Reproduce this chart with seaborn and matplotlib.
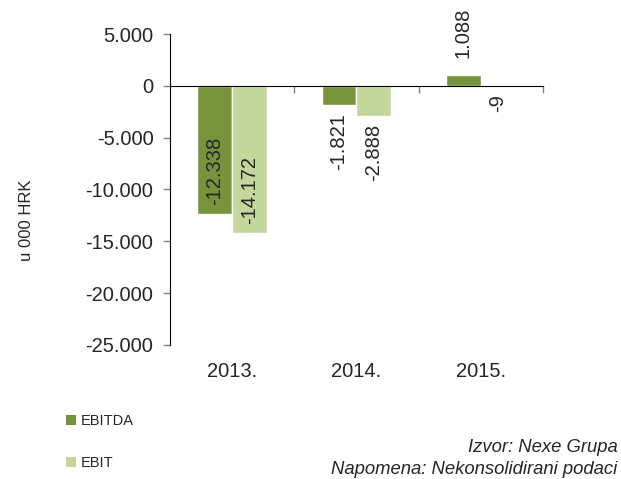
import matplotlib
matplotlib.use('Agg')
import matplotlib.pyplot as plt
import matplotlib.transforms as mtransforms
from matplotlib.patches import Patch
import pandas as pd
import seaborn as sns

years = ['2013.', '2014.', '2015.']
ebitda = [-12338, -1821, 1088]
ebit = [-14172, -2888, -9]
series = ['EBITDA', 'EBIT']
colors = ['#77933C', '#C3D69B']
y_ticks = [5000, 0, -5000, -10000, -15000, -20000, -25000]

df = pd.DataFrame({
    'godina': years * 2,
    'vrijednost': ebitda + ebit,
    'serija': [series[0]] * 3 + [series[1]] * 3,
})

sns.set_style('white')
plt.rcParams['font.family'] = ['Liberation Sans', 'DejaVu Sans']

fig = plt.figure(figsize=(6.21, 4.79), dpi=100)
ax = fig.add_axes([0.274, 0.280, 0.600, 0.649])

sns.barplot(data=df, x='godina', y='vrijednost', hue='serija',
            palette=colors, width=0.56, saturation=1, ax=ax, legend=False)

ax.set_xlim(-0.5, 2.5)
ax.set_ylim(-25000, 5000)
ax.set_yticks(y_ticks)
ax.set_yticklabels([f'{v:,}'.replace(',', '.') for v in y_ticks], fontsize=14.5)
ax.tick_params(axis='y', direction='out', length=5, width=1, color='#808080', left=True, pad=7)

for s in ['top', 'right']:
    ax.spines[s].set_visible(False)
ax.spines['left'].set_color('black')
ax.spines['bottom'].set_position(('data', 0))
ax.spines['bottom'].set_color('black')
ax.set_xticks([0.5, 1.5, 2.5])
ax.set_xticklabels([])
ax.tick_params(axis='x', direction='out', length=5, width=1, color='#808080', bottom=True)
ax.set_xlabel('')
ax.set_ylabel('')

# category labels under the plot area
trans = mtransforms.blended_transform_factory(ax.transData, ax.transAxes)
for i, y in enumerate(years):
    ax.text(i, -0.055, y, transform=trans, ha='center', va='top', fontsize=14.5)

# data labels
inside = [[True, False, False], [True, False, False]]
pad_pts = 6
for k, vals in enumerate([ebitda, ebit]):
    cont = ax.containers[k]
    for j, (bar, v) in enumerate(zip(cont, vals)):
        x = bar.get_x() + bar.get_width() / 2
        lab = f'{v:,}'.replace(',', '.')
        if inside[k][j]:
            va = 'bottom' if v < 0 else 'top'
            dy = pad_pts if v < 0 else -pad_pts
        else:
            va = 'top' if v < 0 else 'bottom'
            dy = -pad_pts if v < 0 else pad_pts * 2
        off = mtransforms.offset_copy(ax.transData, fig=fig, x=0, y=dy, units='points')
        ax.text(x, v, lab, transform=off, rotation=90, ha='center', va=va, fontsize=14.5)

fig.text(0.042, 0.54, 'u 000 HRK', rotation=90, ha='center', va='center', fontsize=12)

handles = [Patch(facecolor=c, edgecolor='none') for c in colors]
fig.legend(handles, series, loc='upper left', bbox_to_anchor=(0.106, 0.135),
           frameon=False, fontsize=10.5, handlelength=0.7, handleheight=0.7,
           handletextpad=0.3, labelspacing=1.9, borderaxespad=0, borderpad=0)

fig.text(0.994, 0.066, 'Izvor: Nexe Grupa', ha='right', va='center', fontsize=13.3, style='italic')
fig.text(0.994, 0.020, 'Napomena: Nekonsolidirani podaci', ha='right', va='center', fontsize=13.3, style='italic')

fig.savefig('out.png', dpi=100)
